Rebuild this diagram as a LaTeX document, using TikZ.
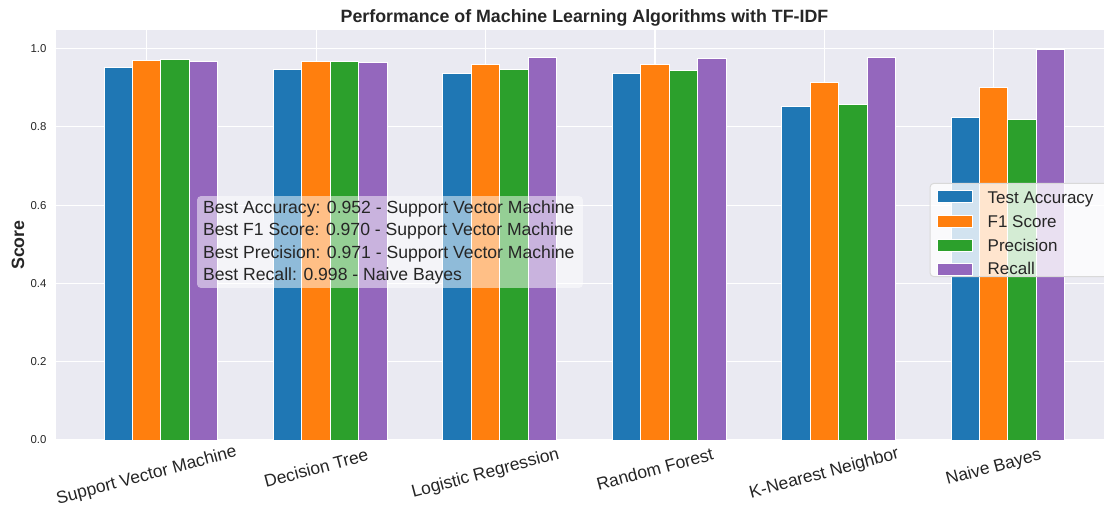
\documentclass[tikz,border=0pt]{standalone}
\usepackage{fontspec}
\setmainfont{Liberation Sans}

\definecolor{tabblue}{HTML}{1F77B4}
\definecolor{taborange}{HTML}{FF7F0E}
\definecolor{tabgreen}{HTML}{2CA02C}
\definecolor{tabpurple}{HTML}{9467BD}
\definecolor{axbg}{HTML}{EAEAF2}
\definecolor{ticktext}{HTML}{262626}

\begin{document}
\begin{tikzpicture}[x=84.7pt, y=195.75pt,
  bar/.style={draw=white, line width=0.5pt},
  gridline/.style={white, line width=0.6pt},
  yticklabel/.style={anchor=east, text=ticktext, inner sep=0pt, font=\fontsize{5.7}{7}\selectfont},
  xticklabel/.style={rotate=15, text=ticktext, inner sep=0pt, font=\fontsize{8.7}{10}\selectfont},
  legendtext/.style={anchor=base west, text=ticktext, inner sep=0pt, font=\fontsize{8.5}{10}\selectfont},
  besttext/.style={anchor=base west, text=ticktext, inner sep=0pt, font=\fontsize{8.8}{10}\selectfont}]
% Canvas
\useasboundingbox (-0.866,-0.1737) rectangle (5.651,1.1239);
\fill[white] (-0.866,-0.1737) rectangle (5.651,1.1239);

% Axes
\fill[axbg] (-0.537,0) rectangle (5.66,1.0473);
\draw[gridline, xstep=1, ystep=0.2] (-0.537,0) grid (5.66,1.0473);

% Support Vector Machine
\fill[tabblue, bar] (-0.252,0) rectangle (-0.084,0.952);
\fill[taborange, bar] (-0.084,0) rectangle (0.084,0.970);
\fill[tabgreen, bar] (0.084,0) rectangle (0.252,0.971);
\fill[tabpurple, bar] (0.252,0) rectangle (0.420,0.968);

% Decision Tree
\fill[tabblue, bar] (0.748,0) rectangle (0.916,0.946);
\fill[taborange, bar] (0.916,0) rectangle (1.084,0.966);
\fill[tabgreen, bar] (1.084,0) rectangle (1.252,0.967);
\fill[tabpurple, bar] (1.252,0) rectangle (1.420,0.965);

% Logistic Regression
\fill[tabblue, bar] (1.748,0) rectangle (1.916,0.937);
\fill[taborange, bar] (1.916,0) rectangle (2.084,0.960);
\fill[tabgreen, bar] (2.084,0) rectangle (2.252,0.947);
\fill[tabpurple, bar] (2.252,0) rectangle (2.420,0.977);

% Random Forest
\fill[tabblue, bar] (2.748,0) rectangle (2.916,0.935);
\fill[taborange, bar] (2.916,0) rectangle (3.084,0.959);
\fill[tabgreen, bar] (3.084,0) rectangle (3.252,0.944);
\fill[tabpurple, bar] (3.252,0) rectangle (3.420,0.975);

% K-Nearest Neighbor
\fill[tabblue, bar] (3.748,0) rectangle (3.916,0.853);
\fill[taborange, bar] (3.916,0) rectangle (4.084,0.914);
\fill[tabgreen, bar] (4.084,0) rectangle (4.252,0.857);
\fill[tabpurple, bar] (4.252,0) rectangle (4.420,0.977);

% Naive Bayes
\fill[tabblue, bar] (4.748,0) rectangle (4.916,0.824);
\fill[taborange, bar] (4.916,0) rectangle (5.084,0.900);
\fill[tabgreen, bar] (5.084,0) rectangle (5.252,0.819);
\fill[tabpurple, bar] (5.252,0) rectangle (5.420,0.998);

% Ticks
\node[yticklabel] (ytick0) at (-0.59,0) {0.0};
\node[yticklabel] (ytick2) at (-0.59,0.2) {0.2};
\node[yticklabel] (ytick4) at (-0.59,0.4) {0.4};
\node[yticklabel] (ytick6) at (-0.59,0.6) {0.6};
\node[yticklabel] (ytick8) at (-0.59,0.8) {0.8};
\node[yticklabel] (ytick10) at (-0.59,1.0) {1.0};

\node[xticklabel] (svm) at (0,-0.092) {Support Vector Machine};
\node[xticklabel] (dtree) at (1,-0.0715) {Decision Tree};
\node[xticklabel] (logreg) at (2,-0.0868) {Logistic Regression};
\node[xticklabel] (rforest) at (3,-0.0741) {Random Forest};
\node[xticklabel] (knn) at (4,-0.0868) {K-Nearest Neighbor};
\node[xticklabel] (nbayes) at (5,-0.0715) {Naive Bayes};

% Labels
\node[anchor=base, text=ticktext, font=\fontsize{8.9}{10}\selectfont\bfseries] (title) at (2.584,1.0659) {Performance of Machine Learning Algorithms with TF-IDF};
\node[rotate=90, text=ticktext, font=\fontsize{8.9}{10}\selectfont\bfseries] (ylabel) at (-0.760,0.498) {Score};

% Best scores
\fill[white, opacity=0.5, rounded corners=2pt] (0.297,0.3883) rectangle (2.575,0.6232);
\node[besttext] (bestacc) at (0.3306,0.5791) {Best Accuracy: 0.952 - Support Vector Machine};
\node[besttext] (bestf1) at (0.3306,0.5218) {Best F1 Score: 0.970 - Support Vector Machine};
\node[besttext] (bestprec) at (0.3306,0.4641) {Best Precision: 0.971 - Support Vector Machine};
\node[besttext] (bestrec) at (0.3306,0.4069) {Best Recall: 0.998 - Naive Bayes};

% Legend
\filldraw[fill=white, fill opacity=0.8, draw=black!15, line width=0.5pt, rounded corners=2pt] (4.624,0.4171) rectangle (5.72,0.6557);
\fill[tabblue, bar] (4.667,0.6066) rectangle (4.873,0.6364);
\fill[taborange, bar] (4.667,0.5427) rectangle (4.873,0.5725);
\fill[tabgreen, bar] (4.667,0.4819) rectangle (4.873,0.5117);
\fill[tabpurple, bar] (4.667,0.4206) rectangle (4.873,0.4504);
\node[legendtext] (legacc) at (4.962,0.6046) {Test Accuracy};
\node[legendtext] (legf1) at (4.962,0.5433) {F1 Score};
\node[legendtext] (legprec) at (4.962,0.4810) {Precision};
\node[legendtext] (legrec) at (4.962,0.4232) {Recall};
\end{tikzpicture}
\end{document}
